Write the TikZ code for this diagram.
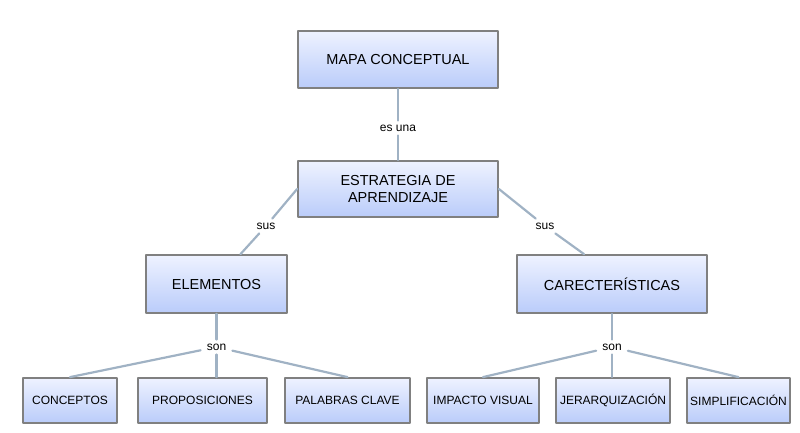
\documentclass[tikz,border=0pt]{standalone}
\usepackage{fontspec}
\setmainfont{Liberation Sans}
\definecolor{boxtop}{RGB}{238,242,255}
\definecolor{boxbot}{RGB}{186,204,250}
\definecolor{boxline}{RGB}{128,128,128}
\definecolor{linkline}{RGB}{160,178,196}
\begin{document}
\begin{tikzpicture}[x=1pt,y=-1pt,line cap=round, line join=round,
		concept/.style={draw=boxline,line width=1.8pt,top color=boxtop,bottom color=boxbot,inner sep=2pt,align=center,font=\fontsize{14.5}{17.5}\selectfont},
		leaf/.style={concept,font=\fontsize{12}{14}\selectfont,minimum height=45pt},
		link/.style={draw=linkline,line width=2.2pt},
		lbl/.style={fill=white,inner xsep=6pt,inner ysep=4pt,font=\fontsize{12}{14}\selectfont}]
			\useasboundingbox (0,0) rectangle (800,432);
			\node[concept,minimum width=200pt,minimum height=57pt] (mapa) at (398,59.5) {MAPA CONCEPTUAL};
			\node[concept,minimum width=200pt,minimum height=56pt] (estr) at (398,189) {ESTRATEGIA DE\\APRENDIZAJE};
			\node[concept,minimum width=141pt,minimum height=58pt] (elem) at (216.5,284) {ELEMENTOS};
			\node[concept,minimum width=190pt,minimum height=58pt] (carac) at (612,284) {CARECTERÍSTICAS};
			\node[leaf,minimum width=94pt] (conc) at (70,400.5) {CONCEPTOS};
			\node[leaf,minimum width=129pt] (prop) at (202.5,400.5) {PROPOSICIONES};
			\node[leaf,minimum width=125pt] (pal) at (347.5,400.5) {PALABRAS CLAVE};
			\node[leaf,minimum width=112pt] (imp) at (483,400.5) {IMPACTO VISUAL};
			\node[leaf,minimum width=114pt] (jer) at (613,400.5) {JERARQUIZACIÓN};
			\node[leaf,minimum width=103pt] (simp) at (738.5,400.5) {SIMPLIFICACIÓN};
			\node[lbl] (esuna) at (398,128) {es una};
			\node[lbl] (sus1) at (266,226) {sus};
			\node[lbl] (sus2) at (545,226) {sus};
			\node[lbl] (son1) at (216.5,347) {son};
			\node[lbl] (son2) at (612,347) {son};
			\draw[link] (mapa) -- (esuna);
			\draw[link] (esuna) -- (estr);
			\draw[link] (estr.west) -- (sus1);
			\draw[link] (sus1) -- ([xshift=24pt]elem.north);
			\draw[link] (estr.east) -- (sus2);
			\draw[link] (sus2) -- ([xshift=-28pt]carac.north);
			\draw[link] (elem) -- (son1);
			\draw[link] (son1) -- (conc.north);
			\draw[link] (son1) -- (son1 |- prop.north);
			\draw[link] (son1) -- (pal.north);
			\draw[link] (carac) -- (son2);
			\draw[link] (son2) -- (imp.north);
			\draw[link] (son2) -- (son2 |- jer.north);
			\draw[link] (son2) -- (simp.north);
		\end{tikzpicture}
\end{document}
